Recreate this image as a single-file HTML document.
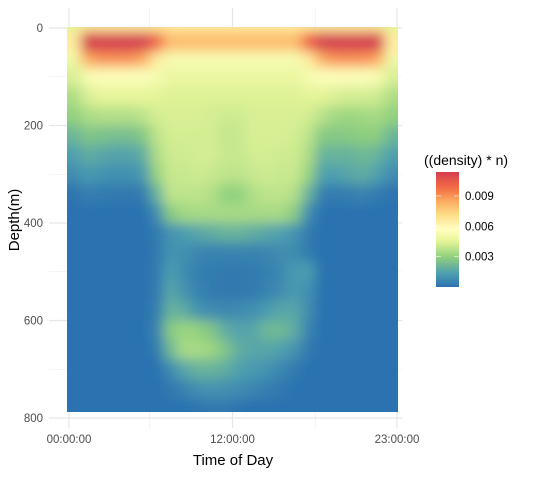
<!DOCTYPE html>
<html><head><meta charset="utf-8">
<style>
body{margin:0;background:#fff;font-family:"Liberation Sans",sans-serif;}
svg text{font-family:"Liberation Sans",sans-serif;}
</style></head>
<body>
<svg id="chart" width="539" height="474" xmlns="http://www.w3.org/2000/svg">
<defs>
<filter id="blur" x="0" y="0" width="600" height="500" filterUnits="userSpaceOnUse">
<feGaussianBlur stdDeviation="6"/>
</filter>
<clipPath id="clip"><rect x="67" y="27" width="331" height="385"/></clipPath>
<linearGradient id="lg" x1="0" y1="1" x2="0" y2="0">
<stop offset="0" stop-color="#2C72B0"/>
<stop offset="0.12" stop-color="#4E9FB0"/>
<stop offset="0.26" stop-color="#8FD07D"/>
<stop offset="0.4" stop-color="#E6F598"/>
<stop offset="0.5" stop-color="#FFFFBF"/>
<stop offset="0.62" stop-color="#FEE08B"/>
<stop offset="0.74" stop-color="#FDAE61"/>
<stop offset="0.86" stop-color="#F46D43"/>
<stop offset="1" stop-color="#D53E4F"/>
</linearGradient>
</defs>
<g id="grid"></g>
<g clip-path="url(#clip)"><g id="cells" filter="url(#blur)"></g></g>
<g id="axes"></g>
<text x="233" y="465" font-size="15" text-anchor="middle" fill="#000">Time of Day</text>
<text transform="translate(19,220) rotate(-90)" font-size="15" text-anchor="middle" fill="#000">Depth(m)</text>
<g>
<text x="424" y="165" font-size="14" fill="#000">((density) * n)</text>
<rect x="436" y="172" width="23" height="115" fill="url(#lg)"/>
<g id="legend-ticks"></g>
</g>
</svg>
<script>
const hours = [0,1,2,3,4,5,6,7,8,9,10,11,12,13,14,15,16,17,18,19,20,21,22,23];
// top depth of each band; the band ends at the next entry (last band ends at 800)
const depthRows = [0,8,48,80,120,160,200,240,280,320,360,400,440,480,520,560,600,640,680,720,760];
// density values in units of 0.001, one row per depth band
const dT  = [4.5,6.5,6.5,6.5,6.5,6.5,6.5,6.5,6.5,6.5,6.5,6.5,6.5,6.5,6.5,6.5,6.5,6.5,6.5,6.5,6.5,6.5,6.5,4.5];
const d0  = [6.5,13,13.5,13.5,13.5,13,10,8,8,8,8,8,8,8,8,8,8,10,13,13.5,13.5,13.5,13,6.5];
const d1  = [5,8.5,9,9,9,8.5,6.5,5.3,5.3,5.3,5.3,5.3,5.3,5.3,5.3,5.3,5.3,6.5,8.5,9,9,9,8.5,5];
const d2  = [4.3,5.3,5.5,5.5,5.5,5.5,5.2,4.8,4.8,4.8,4.8,4.8,4.8,4.8,4.8,4.8,4.8,5.2,5.5,5.5,5.5,5.5,5.3,4.3];
const d3  = [3.5,4.3,4.6,4.6,4.6,4.6,4.5,4.4,4.4,4.4,4.4,4.4,4.4,4.4,4.4,4.4,4.4,4.5,4.5,4.3,4.2,4.2,4.1,3.5];
const d4  = [3,3.5,3.6,3.6,3.6,3.8,4.2,4.3,4.3,4.3,4.2,4.1,4.1,4.3,4.3,4.3,4.3,4.2,3.7,3.3,3.2,3.3,3.4,3];
const d5  = [2.1,2.6,2.5,2.4,2.4,2.7,3.8,4.2,4.2,4.2,4.2,3.9,4,4.3,4.3,4.3,4.2,3.8,2.8,2.7,2.8,2.9,2.9,2.1];
const d6  = [1.4,1.8,1.6,1.5,1.5,1.8,3.5,4.1,4.1,4.2,4.2,4,4,4.2,4.2,4.1,4.1,3.5,2,2,2,2.2,2,1.4];
const d7  = [0.8,1.2,1,0.9,0.9,1.2,3.1,4,4,4.1,4,3.8,3.8,4,4.1,4,4,3.1,1.4,1.4,1.6,1.8,1.4,0.8];
const d8  = [0.1,0.4,0.3,0.2,0.2,0.3,2,3.8,3.8,3.8,3.6,3,3,3.6,3.8,3.8,3.6,2,0.4,0.3,0.4,0.5,0.3,0.1];
const d9  = [0,0,0,0,0,0,0.8,2.8,3.3,3.4,3.4,3.4,3.4,3.4,3.4,3.4,2.8,0.8,0,0,0,0,0,0];
const d10 = [0,0,0,0,0,0,0.3,1,1.3,1.6,1.8,2,2,1.8,1.6,1.4,1,0.3,0,0,0,0,0,0];
const d11 = [0,0,0,0,0,0,0.2,1,0.9,0.6,0.5,0.5,0.5,0.5,0.6,0.8,0.8,0.3,0,0,0,0,0,0];
const d12 = [0,0,0,0,0,0,0.3,1.3,0.8,0.4,0.3,0.2,0.2,0.3,0.4,0.7,1.2,1.3,0,0,0,0,0,0];
const d13 = [0,0,0,0,0,0,0.3,1.6,1,0.5,0.3,0.2,0.2,0.3,0.5,0.8,1.2,0.9,0,0,0,0,0,0];
const d14 = [0,0,0,0,0,0,0.4,2,1.8,1,0.8,0.7,0.8,0.9,1.3,1.6,1.6,0.8,0,0,0,0,0,0];
const d15 = [0,0,0,0,0,0,0.5,2.8,3.2,3,2.6,1.8,1.5,1.6,2.2,2.2,1.8,0.5,0,0,0,0,0,0];
const d16 = [0,0,0,0,0,0,0.3,2.2,3.4,3.4,3.2,2.6,1.8,1.6,1.6,1.4,1,0.2,0,0,0,0,0,0];
const d17 = [0,0,0,0,0,0,0,0.8,1.6,2,2,1.8,1.4,1.2,1,0.6,0.3,0,0,0,0,0,0,0];
const d18 = [0,0,0,0,0,0,0,0.2,0.5,0.9,1,0.9,0.8,0.6,0.4,0.2,0,0,0,0,0,0,0,0];
const d19 = [0,0,0,0,0,0,0,0,0,0.1,0.2,0.2,0.1,0,0,0,0,0,0,0,0,0,0,0];
const densityRows = [dT,d0,d1,d2,d3,d4,d5,d6,d7,d8,d9,d10,d11,d12,d13,d14,d15,d16,d17,d18,d19];
const xTickValues = [0,12,24];
const xTickLabels = ["00:00:00","12:00:00","23:00:00"];
const xMinorValues = [6,18];
const yTickValues = [0,200,400,600,800];
const yMinorValues = [100,300,500,700];
const legendTickValues = [0.003,0.006,0.009];
const legendTickLabels = ["0.003","0.006","0.009"];

const NS="http://www.w3.org/2000/svg";
const xScale = h => 67 + h*(398-67)/24;
const yScale = d => 28 + d*(418-28)/800;
const legScale = v => 287 - (v/0.01136)*115;
const stops=[[0,[44,114,176]],[0.12,[78,159,176]],[0.26,[143,208,125]],[0.4,[230,245,152]],[0.5,[255,255,191]],[0.62,[254,224,139]],[0.74,[253,174,97]],[0.86,[244,109,67]],[1,[213,62,79]]];
function color(v){
  let t=Math.max(0,Math.min(1,v/0.01136));
  for(let i=1;i<stops.length;i++){
    if(t<=stops[i][0]){
      const a=stops[i-1],b=stops[i],f=(t-a[0])/(b[0]-a[0]);
      const c=a[1].map((x,k)=>Math.round(x+(b[1][k]-x)*f));
      return `rgb(${c[0]},${c[1]},${c[2]})`;
    }
  }
  return "rgb(213,62,79)";
}
function mk(tag,attrs,parent){const e=document.createElementNS(NS,tag);for(const k in attrs)e.setAttribute(k,attrs[k]);parent.appendChild(e);return e;}

const grid=document.getElementById('grid');
yMinorValues.forEach(v=>{const l=mk('line',{x1:49,x2:402,y1:yScale(v),y2:yScale(v),stroke:'#ebebeb','stroke-width':0.6},grid);

});
xMinorValues.forEach(v=>{const l=mk('line',{x1:xScale(v),x2:xScale(v),y1:8,y2:428,stroke:'#ebebeb','stroke-width':0.6},grid);

});
yTickValues.forEach(v=>{const l=mk('line',{x1:49,x2:402,y1:yScale(v),y2:yScale(v),stroke:'#e6e6e6','stroke-width':1.2},grid);

});
xTickValues.forEach(v=>{const l=mk('line',{x1:xScale(v)+(v===0?2:v===24?-1:0),x2:xScale(v)+(v===0?2:v===24?-1:0),y1:8,y2:428,stroke:'#e6e6e6','stroke-width':1.2},grid);

});

const cells=document.getElementById('cells');
const cw=xScale(1)-xScale(0);
const nR=densityRows.length, nC=hours.length;
densityRows.forEach((row,ri)=>{
  let y0=yScale(depthRows[ri]), y1=yScale(ri<nR-1?depthRows[ri+1]:800);
  if(ri===0) y0-=20;
  if(ri===nR-1) y1+=20;
  row.forEach((v,ci)=>{
    let x0=xScale(hours[ci]), x1=x0+cw;
    if(ci===0) x0-=20;
    if(ci===nC-1) x1+=20;
    const r=mk('rect',{x:x0,y:y0,width:x1-x0+0.6,height:y1-y0+0.6,fill:color(v*0.001)},cells);
    
    
  });
});

const axes=document.getElementById('axes');
yTickValues.forEach(v=>{const t=mk('text',{x:43,y:yScale(v)+4,'font-size':11.5,'text-anchor':'end',fill:'#4d4d4d'},axes);t.textContent=v;

});
xTickValues.forEach((v,i)=>{const t=mk('text',{x:xScale(v)+(v===0?2:v===24?-1:0),y:443,'font-size':11.5,'text-anchor':'middle',fill:'#4d4d4d'},axes);t.textContent=xTickLabels[i];

});

const lt=document.getElementById('legend-ticks');
legendTickValues.forEach((v,i)=>{
  const y=legScale(v);
  mk('line',{x1:436,x2:441,y1:y,y2:y,stroke:'#fff','stroke-width':0.8,opacity:0.7},lt);
  mk('line',{x1:454,x2:459,y1:y,y2:y,stroke:'#fff','stroke-width':0.8,opacity:0.7},lt);
  const t=mk('text',{x:465,y:y+4,'font-size':11.5,fill:'#000'},lt);t.textContent=legendTickLabels[i];
  
  
});
</script>
</body></html>
